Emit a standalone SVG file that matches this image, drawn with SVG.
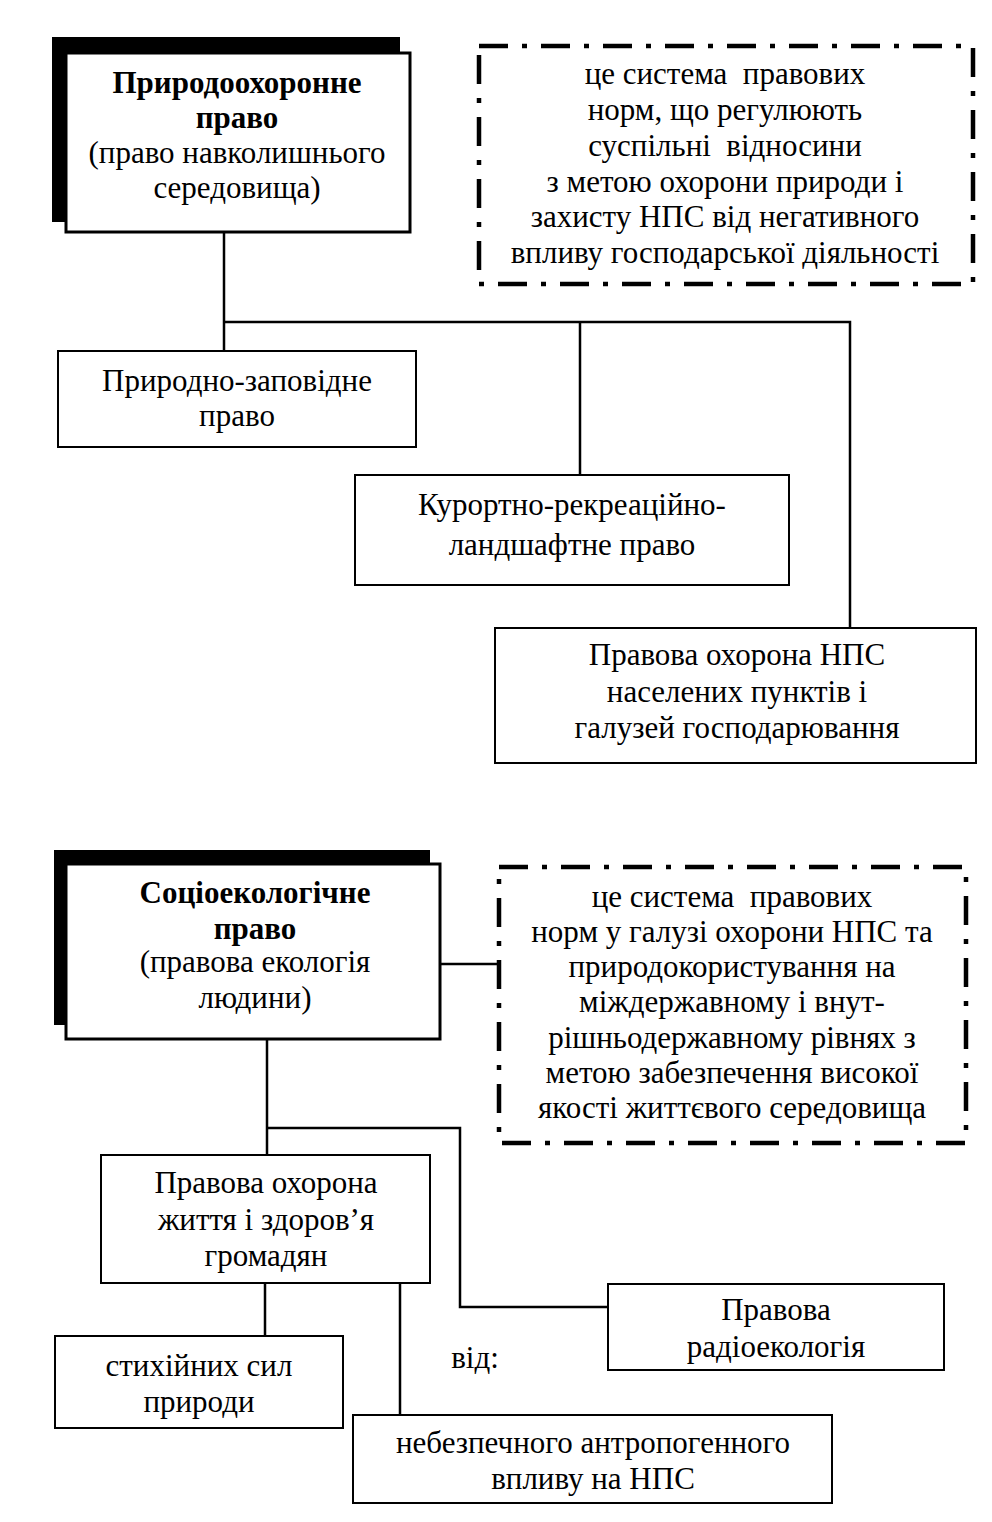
<svg xmlns="http://www.w3.org/2000/svg" width="992" height="1522" viewBox="0 0 992 1522">
<style>
text{font-family:"Liberation Serif","Times New Roman",serif;font-size:31px;fill:#000;text-anchor:middle}
.b{font-weight:bold}
.box{fill:#fff;stroke:#000;stroke-width:2}
.main{fill:#fff;stroke:#000;stroke-width:3}
.shadow{fill:#000}
.dd{fill:none;stroke:#000;stroke-width:4.5;stroke-dasharray:29 14 5 14}
.ln{fill:none;stroke:#000;stroke-width:2.5}
</style>
<rect width="992" height="1522" fill="#fff"/>
<g id="connectors">
<path class="ln" d="M224 232V351M224 322H850V628M580 322V475"/>
<path class="ln" d="M440 964H498"/>
<path class="ln" d="M267 1039V1155M267 1128H460V1307H608"/>
<path class="ln" d="M265 1283V1336M400 1283V1415"/>
</g>
<g id="n1">
<rect class="shadow" x="52" y="37" width="348" height="185"/>
<rect class="main" x="66" y="53" width="344" height="179"/>
<text class="b" x="237" y="93">Природоохоронне</text>
<text class="b" x="237" y="128">право</text>
<text x="237" y="163">(право навколишнього</text>
<text x="237" y="198">середовища)</text>
</g>
<g id="d1">
<rect class="dd" x="479" y="46" width="494" height="238"/>
<text x="725" y="84">це система&#160; правових</text>
<text x="725" y="120">норм, що регулюють</text>
<text x="725" y="156">суспільні&#160; відносини</text>
<text x="725" y="192">з метою охорони природи і</text>
<text x="725" y="227">захисту НПС від негативного</text>
<text x="725" y="263">впливу господарської діяльності</text>
</g>
<g id="n2">
<rect class="box" x="58" y="351" width="358" height="96"/>
<text x="237" y="391">Природно-заповідне</text>
<text x="237" y="426">право</text>
</g>
<g id="n3">
<rect class="box" x="355" y="475" width="434" height="110"/>
<text x="572" y="515">Курортно-рекреаційно-</text>
<text x="572" y="555">ландшафтне право</text>
</g>
<g id="n4">
<rect class="box" x="495" y="628" width="481" height="135"/>
<text x="737" y="665">Правова охорона НПС</text>
<text x="737" y="702">населених пунктів і</text>
<text x="737" y="738">галузей господарювання</text>
</g>
<g id="n5">
<rect class="shadow" x="54" y="850" width="376" height="175"/>
<rect class="main" x="66" y="864" width="374" height="175"/>
<text class="b" x="255" y="903">Соціоекологічне</text>
<text class="b" x="255" y="939">право</text>
<text x="255" y="972">(правова екологія</text>
<text x="255" y="1008">людини)</text>
</g>
<g id="d2">
<rect class="dd" x="499" y="867" width="467" height="276"/>
<text x="732" y="907">це система&#160; правових</text>
<text x="732" y="942">норм у галузі охорони НПС та</text>
<text x="732" y="977">природокористування на</text>
<text x="732" y="1012">міждержавному і внут-</text>
<text x="732" y="1048">рішньодержавному рівнях з</text>
<text x="732" y="1083">метою забезпечення високої</text>
<text x="732" y="1118">якості життєвого середовища</text>
</g>
<g id="n6">
<rect class="box" x="101" y="1155" width="329" height="128"/>
<text x="266" y="1193">Правова охорона</text>
<text x="266" y="1230">життя і здоров’я</text>
<text x="266" y="1266">громадян</text>
</g>
<g id="n7">
<rect class="box" x="608" y="1284" width="336" height="86"/>
<text x="776" y="1320">Правова</text>
<text x="776" y="1357">радіоекологія</text>
</g>
<g id="n8">
<rect class="box" x="55" y="1336" width="288" height="92"/>
<text x="199" y="1376">стихійних сил</text>
<text x="199" y="1412">природи</text>
</g>
<g id="n9">
<rect class="box" x="353" y="1415" width="479" height="88"/>
<text x="593" y="1453">небезпечного антропогенного</text>
<text x="593" y="1489">впливу на НПС</text>
</g>
<text x="475" y="1368">від:</text>
</svg>
